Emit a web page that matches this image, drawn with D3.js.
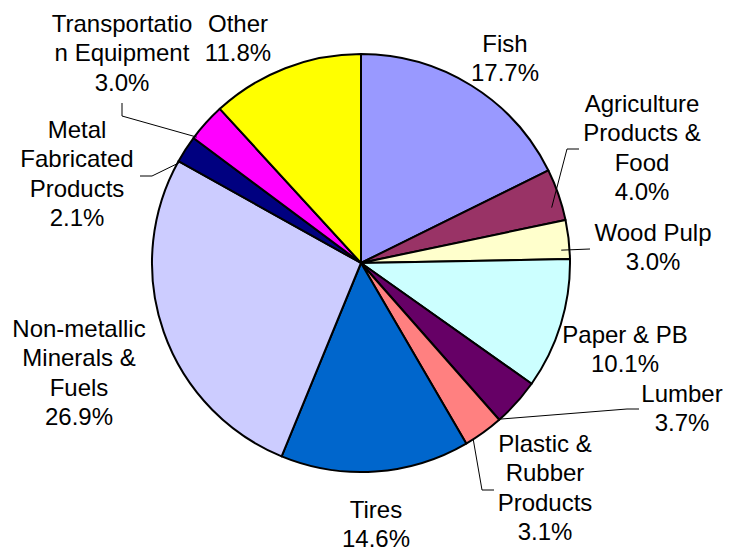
<!DOCTYPE html>
<html>
<head>
<meta charset="utf-8">
<script src="https://cdn.jsdelivr.net/npm/d3@7.9.0/dist/d3.min.js"></script>
<style>
  html, body { margin: 0; padding: 0; background: #fff; }
  svg { display: block; }
</style>
</head>
<body>
<script>
// ** Data **
const categories = [
    "Fish", "Agriculture Products & Food", "Wood Pulp", "Paper & PB", "Lumber",
    "Plastic & Rubber Products", "Tires", "Non-metallic Minerals & Fuels",
    "Metal Fabricated Products", "Transportation Equipment", "Other"
];
const shares = [17.7, 4.0, 3.0, 10.1, 3.7, 3.1, 14.6, 26.9, 2.1, 3.0, 11.8];
const labelLines = [
    ["Fish"],
    ["Agriculture", "Products &", "Food"],
    ["Wood Pulp"],
    ["Paper & PB"],
    ["Lumber"],
    ["Plastic &", "Rubber", "Products"],
    ["Tires"],
    ["Non-metallic", "Minerals &", "Fuels"],
    ["Metal", "Fabricated", "Products"],
    ["Transportatio", "n Equipment"],
    ["Other"]
];
const colors = [
    "#9999FF", "#993366", "#FFFFCC", "#CCFFFF", "#660066",
    "#FF8080", "#0066CC", "#CCCCFF", "#000080", "#FF00FF", "#FFFF00"
];

// ** Label layout (center x, first baseline y, leader elbow points, where leader meets slice) **
const labelPos = [
    { x: 505, y: 52 },
    { x: 642, y: 112, leader: [[579, 149], [567, 149]], t: 0.7, k: 0.95 },
    { x: 653, y: 241, leader: [[590, 249]], t: 0.76, k: 0.96 },
    { x: 625, y: 343 },
    { x: 682, y: 402, leader: [[639, 409], [627, 409]], t: 0.98, k: 1.0 },
    { x: 545, y: 452, leader: [[494, 490], [482, 490]], t: 0.8, k: 1.0 },
    { x: 376, y: 518 },
    { x: 79, y: 337 },
    { x: 77, y: 138, leader: [[140, 176], [152, 176]], t: 0.0, k: 0.99 },
    { x: 122, y: 32, leader: [[122, 103], [122, 116]], t: 0.07, k: 0.99 },
    { x: 238, y: 32 }
];

// ** SVG Setup **
const width = 732, height = 548;
const cx = 361, cy = 263, radius = 209;
const lineH = 29.3;

const svg = d3.select("body")
    .append("svg")
    .attr("width", width)
    .attr("height", height)
    .style("font-family", "'Liberation Sans', Arial, sans-serif");

const data = categories.map((c, i) => ({ name: c, value: shares[i], i: i }));

const pie = d3.pie()
    .value(d => d.value)
    .sort(null);

const arcs = pie(data);
const arc = d3.arc().innerRadius(0).outerRadius(radius);

const g = svg.append("g").attr("transform", `translate(${cx},${cy})`);

// ** Slices **
g.selectAll("path.slice")
    .data(arcs)
    .enter()
    .append("path")
    .attr("class", "slice")
    .attr("d", arc)
    .attr("fill", d => colors[d.data.i])
    .attr("stroke", "#000")
    .attr("stroke-width", 2)
    .attr("stroke-linejoin", "round");

// ** Leader lines **
arcs.forEach(d => {
    const p = labelPos[d.data.i];
    if (!p.leader) return;
    const a = d.startAngle + p.t * (d.endAngle - d.startAngle);
    const r = radius * p.k;
    const end = [cx + r * Math.sin(a), cy - r * Math.cos(a)];
    const pts = p.leader.concat([end]);
    svg.append("path")
        .attr("d", d3.line()(pts))
        .attr("fill", "none")
        .attr("stroke", "#000")
        .attr("stroke-width", 1);
});

// ** Labels **
arcs.forEach(d => {
    const p = labelPos[d.data.i];
    const lines = labelLines[d.data.i].concat([d.data.value.toFixed(1) + "%"]);
    const txt = svg.append("text")
        .attr("text-anchor", "middle")
        .style("font-size", "24px")
        .style("fill", "#000");
    lines.forEach((l, j) => {
        txt.append("tspan")
            .attr("x", p.x)
            .attr("y", p.y + j * lineH)
            .text(l);
    });
});
</script>
</body>
</html>
